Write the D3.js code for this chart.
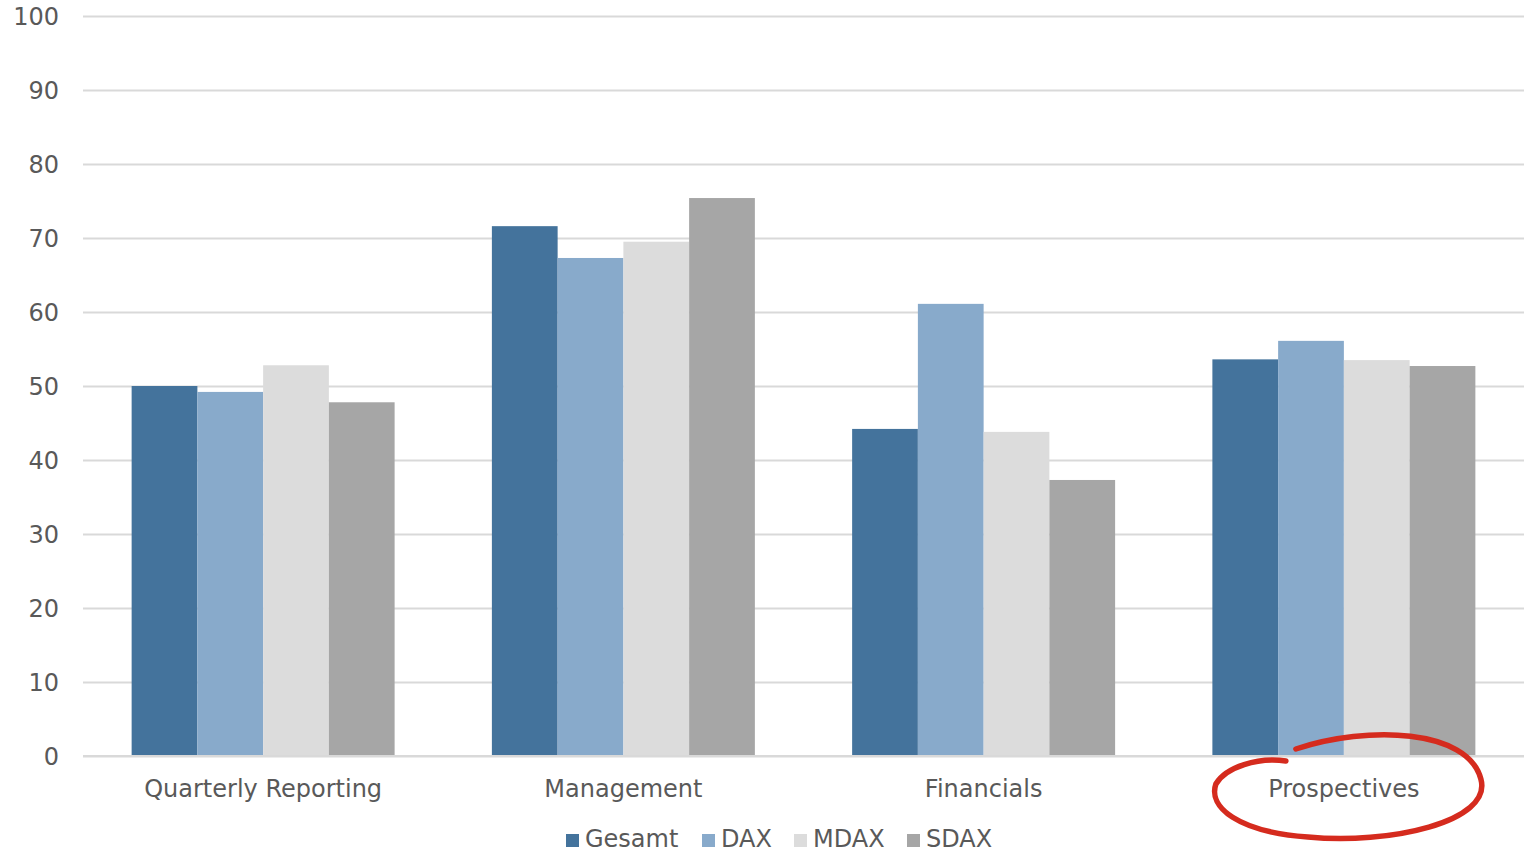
<!DOCTYPE html>
<html>
<head>
<meta charset="utf-8">
<script src="https://cdn.jsdelivr.net/npm/d3@7"></script>
<style>
  html, body { margin: 0; padding: 0; background: #fff; }
  svg { display: block; }
  text { font-family: "DejaVu Sans", Verdana, sans-serif; fill: #595959; }
</style>
</head>
<body>
<svg id="chart" width="1532" height="853"></svg>
<script>
// Survey results by topic and index segment
const categories = ["Quarterly Reporting", "Management", "Financials", "Prospectives"];
const seriesNames = ["Gesamt", "DAX", "MDAX", "SDAX"];
const seriesColors = ["#44739c", "#88aacb", "#dcdcdc", "#a6a6a6"];
const gesamt = [50.0, 71.6, 44.2, 53.6];
const dax    = [49.2, 67.3, 61.1, 56.1];
const mdax   = [52.8, 69.5, 43.8, 53.5];
const sdax   = [47.8, 75.4, 37.3, 52.7];
const yTicks = [0, 10, 20, 30, 40, 50, 60, 70, 80, 90, 100];
const highlighted = "Prospectives";

const seriesValues = [gesamt, dax, mdax, sdax];
const rows = categories.map((c, i) => ({
  category: c,
  values: seriesNames.map((s, j) => ({ series: s, value: seriesValues[j][i], color: seriesColors[j] }))
}));

const svg = d3.select("#chart");
const plot = { left: 83, right: 1524, top: 16, bottom: 756 };
const fontSize = 24;

const x0 = d3.scaleBand().domain(categories).range([plot.left, plot.right]).padding(0);
const x1 = d3.scaleBand().domain(seriesNames)
  .range([x0.bandwidth() * 0.135, x0.bandwidth() * 0.865]).padding(0);
const y = d3.scaleLinear().domain([0, 100]).range([plot.bottom, plot.top]);

// Gridlines and value axis
const yAxis = d3.axisLeft(y).tickValues(yTicks).tickSize(-(plot.right - plot.left)).tickPadding(24);
const gy = svg.append("g").attr("transform", `translate(${plot.left},0)`).call(yAxis);
gy.select(".domain").remove();
gy.selectAll(".tick line").attr("stroke", "#d9d9d9").attr("stroke-width", 2);
gy.selectAll(".tick text").attr("font-size", fontSize).attr("fill", "#595959").attr("dy", "0.36em");

// Grouped bars
const groups = svg.append("g").selectAll("g").data(rows).join("g")
  .attr("transform", d => `translate(${x0(d.category)},0)`);
groups.selectAll("rect").data(d => d.values).join("rect")
  .attr("x", d => x1(d.series))
  .attr("width", x1.bandwidth())
  .attr("y", d => y(d.value))
  .attr("height", d => y(0) - y(d.value))
  .attr("fill", d => d.color);

// Baseline
svg.append("line")
  .attr("x1", plot.left).attr("x2", plot.right)
  .attr("y1", y(0)).attr("y2", y(0))
  .attr("stroke", "#d9d9d9").attr("stroke-width", 2);

// Category labels
const xAxis = d3.axisBottom(x0).tickSize(0).tickPadding(24);
const gx = svg.append("g").attr("transform", `translate(0,${plot.bottom})`).call(xAxis);
gx.select(".domain").remove();
gx.selectAll(".tick text").attr("font-size", fontSize).attr("fill", "#595959");

// Hand-drawn red circle around the highlighted category label
const cx = x0(highlighted) + x0.bandwidth() / 2 + 4;
const cy = plot.bottom + 31;
const ring = d3.path();
ring.moveTo(cx - 52, cy - 38);
ring.bezierCurveTo(cx + 20, cy - 62, cx + 120, cy - 58, cx + 133, cy - 8);
ring.bezierCurveTo(cx + 145, cy + 35, cx + 40, cy + 58, cx - 40, cy + 50);
ring.bezierCurveTo(cx - 110, cy + 45, cx - 140, cy + 20, cx - 132, cy - 3);
ring.bezierCurveTo(cx - 122, cy - 20, cx - 90, cy - 30, cx - 62, cy - 26);
svg.append("path")
  .attr("d", ring.toString())
  .attr("fill", "none")
  .attr("stroke", "#d52b1e")
  .attr("stroke-width", 5.5)
  .attr("stroke-linecap", "round");

// Legend
const legendItems = [
  { name: "Gesamt", x: 566 },
  { name: "DAX", x: 702 },
  { name: "MDAX", x: 794 },
  { name: "SDAX", x: 907 }
];
const legend = svg.append("g").selectAll("g").data(legendItems).join("g")
  .attr("transform", d => `translate(${d.x},834)`);
legend.append("rect").attr("width", 13).attr("height", 13)
  .attr("fill", d => seriesColors[seriesNames.indexOf(d.name)]);
legend.append("text").attr("x", 19).attr("y", 13).attr("font-size", fontSize)
  .text(d => d.name);
</script>
</body>
</html>
